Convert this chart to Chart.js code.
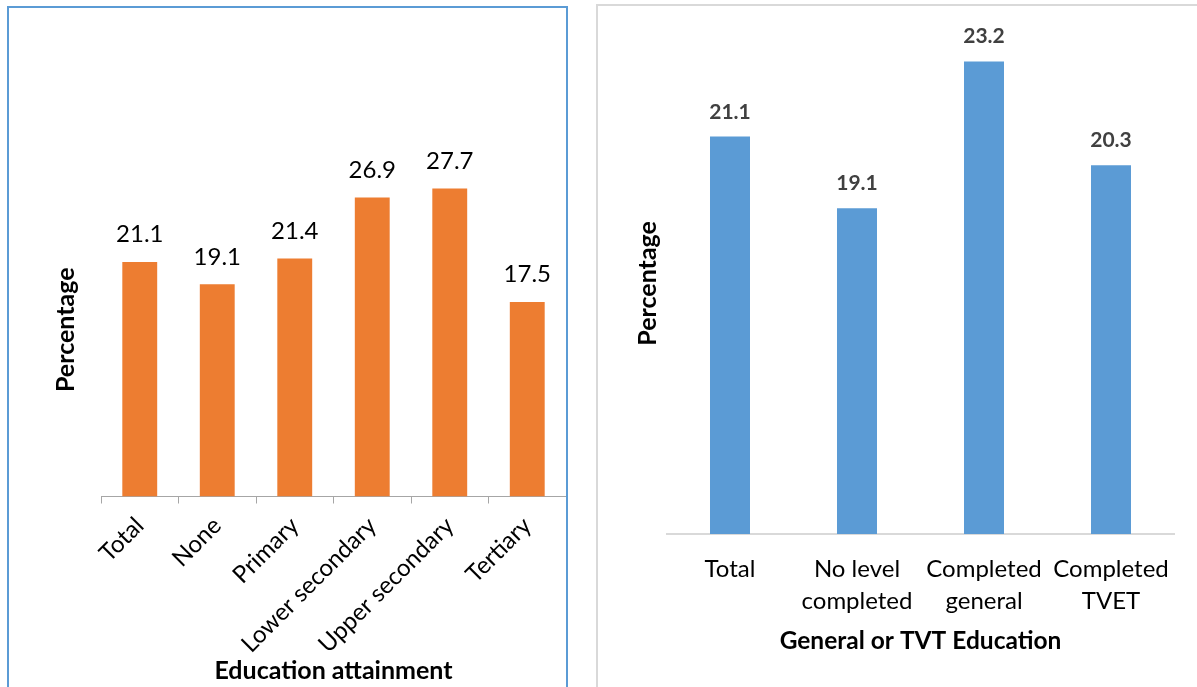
<!DOCTYPE html>
<html>
<head>
<meta charset="utf-8">
<script src="https://cdn.jsdelivr.net/npm/chart.js@4.4.1/dist/chart.umd.min.js"></script>
<style>
    body { margin: 0; background: #fff; width: 1197px; height: 687px; overflow: hidden; position: relative; }
    #leftPanel { position: absolute; left: 7px; top: 6px; width: 557px; height: 700px; border: 2px solid #5b9bd5; }
    #rightPanel { position: absolute; left: 596px; top: 4px; width: 620px; height: 700px; border: 2px solid #d9d9d9; }
    canvas { position: absolute; }
</style>
</head>
<body>
<div id="leftPanel"></div>
<div id="rightPanel"></div>
<canvas id="attainmentChart" width="557" height="678" style="left:9px;top:9px;"></canvas>
<canvas id="tvetChart" width="599" height="681" style="left:598px;top:6px;"></canvas>
<script>
const attainmentLabels = ['Total', 'None', 'Primary', 'Lower secondary', 'Upper secondary', 'Tertiary'];
const attainmentValues = [21.1, 19.1, 21.4, 26.9, 27.7, 17.5];

const tvetLabels = [['Total'], ['No level', 'completed'], ['Completed', 'general'], ['Completed', 'TVET']];
const tvetValues = [21.1, 19.1, 23.2, 20.3];

const FONT = 'Lato, "Open Sans", sans-serif';

// draws the value above each bar
function valueLabels(font, color, gap) {
    return {
        id: 'valueLabels',
        afterDatasetsDraw(chart) {
            const ctx = chart.ctx;
            const meta = chart.getDatasetMeta(0);
            const values = chart.data.datasets[0].data;
            ctx.save();
            ctx.font = font;
            ctx.fillStyle = color;
            ctx.textAlign = 'center';
            ctx.textBaseline = 'alphabetic';
            meta.data.forEach((bar, i) => {
                ctx.fillText(values[i].toFixed(1), bar.x, bar.y - gap);
            });
            ctx.restore();
        }
    };
}

new Chart(document.getElementById('attainmentChart').getContext('2d'), {
    type: 'bar',
    data: {
        labels: attainmentLabels,
        datasets: [{
            data: attainmentValues,
            backgroundColor: '#ed7d31',
            barPercentage: 0.45,
            categoryPercentage: 1
        }]
    },
    options: {
        responsive: false,
        animation: false,
        layout: { padding: { left: 0, right: 0, top: 154, bottom: 0 } },
        scales: {
            x: {
                grid: { display: true, drawOnChartArea: false, drawTicks: true, tickLength: 7, color: '#a6a6a6' },
                border: { display: true, color: '#a6a6a6', width: 1 },
                ticks: {
                    autoSkip: false,
                    minRotation: 45,
                    maxRotation: 45,
                    padding: 8,
                    color: '#000',
                    font: { family: FONT, size: 24 }
                },
                title: {
                    display: true,
                    text: 'Education attainment',
                    color: '#000',
                    font: { family: FONT, size: 25, weight: 'bold' },
                    padding: { top: 0, bottom: 1 }
                },
                afterFit: scale => { scale.height = 190.5; }
            },
            y: {
                min: 0,
                max: 30,
                grid: { display: false, drawTicks: false },
                border: { display: false },
                ticks: { display: false },
                title: {
                    display: true,
                    text: 'Percentage',
                    color: '#000',
                    font: { family: FONT, size: 25, weight: 'bold' },
                    padding: { top: 42, bottom: 0 }
                },
                afterFit: scale => { scale.width = 92; }
            }
        },
        plugins: {
            legend: { display: false },
            tooltip: { enabled: false }
        }
    },
    plugins: [valueLabels('24px ' + FONT, '#000', 19.6)]
});

new Chart(document.getElementById('tvetChart').getContext('2d'), {
    type: 'bar',
    data: {
        labels: tvetLabels,
        datasets: [{
            data: tvetValues,
            backgroundColor: '#5b9bd5',
            barPercentage: 0.315,
            categoryPercentage: 1
        }]
    },
    options: {
        responsive: false,
        animation: false,
        layout: { padding: { left: 0, right: 22.5, top: 26.8, bottom: 0 } },
        scales: {
            x: {
                grid: { display: false, drawTicks: false },
                border: { display: true, color: '#d9d9d9', width: 2 },
                ticks: {
                    autoSkip: false,
                    maxRotation: 0,
                    padding: 19,
                    color: '#000',
                    font: { family: FONT, size: 24, lineHeight: 1.33 }
                },
                title: {
                    display: true,
                    text: 'General or TVT Education',
                    color: '#000',
                    font: { family: FONT, size: 24.5, weight: 'bold' },
                    padding: { top: 0, bottom: 31 }
                },
                afterFit: scale => { scale.height = 153; }
            },
            y: {
                min: 10,
                max: 24,
                grid: { display: false, drawTicks: false },
                border: { display: false },
                ticks: { display: false },
                title: {
                    display: true,
                    text: 'Percentage',
                    color: '#000',
                    font: { family: FONT, size: 25, weight: 'bold' },
                    padding: { top: 35, bottom: 0 }
                },
                afterFit: scale => { scale.width = 68.5; }
            }
        },
        plugins: {
            legend: { display: false },
            tooltip: { enabled: false }
        }
    },
    plugins: [valueLabels('bold 21px ' + FONT, '#404040', 18)]
});
</script>
</body>
</html>
